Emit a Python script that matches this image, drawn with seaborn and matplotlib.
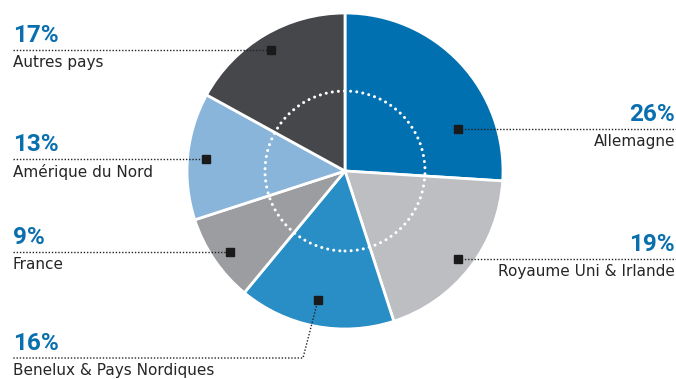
import matplotlib
matplotlib.use("Agg")
import matplotlib.pyplot as plt
import seaborn as sns
from matplotlib.patches import Circle

# ---- data ----
categories = ["Allemagne", "Royaume Uni & Irlande", "Benelux & Pays Nordiques",
              "France", "Amérique du Nord", "Autres pays"]
shares = [26, 19, 16, 9, 13, 17]
pct_labels = ["26%", "19%", "16%", "9%", "13%", "17%"]
colors = ["#0070b0", "#bdbec1", "#2a8ec6", "#9c9da0", "#8ab5da", "#46474b"]

sns.set_theme(style="white")
plt.rcParams["font.family"] = ["DejaVu Sans"]

W, H = 676, 379
fig = plt.figure(figsize=(W / 100, H / 100), dpi=100)
ax = fig.add_axes([0, 0, 1, 1])

def Y(p):
    return H - p

cx, cy, R = 345, 171, 158
pal = sns.color_palette(colors)
ax.pie(shares, colors=pal, startangle=90, counterclock=False,
       center=(cx, Y(cy)), radius=R, frame=True,
       wedgeprops=dict(edgecolor="white", linewidth=2))
circ = Circle((cx, Y(cy)), 80, fill=False, edgecolor="white",
              linewidth=2.2, linestyle=(0, (0.01, 2.0)), zorder=5)
circ.set_capstyle("round")
ax.add_patch(circ)

ax.set_xlim(0, W)
ax.set_ylim(0, H)
ax.set_aspect("auto")
ax.axis("off")

# ---- annotation layout (pixel positions) ----
# (marker x, marker y, line y, side, elbow x)
layout = {
    "Allemagne": (458, 129, 129, "right", None),
    "Royaume Uni & Irlande": (458, 259, 259, "right", None),
    "Benelux & Pays Nordiques": (318, 300, 358, "left", 303),
    "France": (230, 252, 252, "left", None),
    "Amérique du Nord": (206, 159, 159, "left", None),
    "Autres pays": (271, 50, 50, "left", None),
}

lead = dict(color="#222222", lw=1.0, linestyle=(0, (1, 1.3)), zorder=6)
pct_font = dict(family=["Roboto", "DejaVu Sans"], weight="bold",
                size=17.5, color="#0a6fae")
lab_font = dict(family=["DejaVu Sans"], size=11, color="#262626")

for cat, pct in zip(categories, pct_labels):
    mx, my, ly, side, ex = layout[cat]
    if side == "right":
        ax.plot([mx, 676], [Y(ly), Y(ly)], **lead)
        ax.text(675, Y(ly - 8), pct, ha="right", va="baseline", **pct_font)
        ax.text(675, Y(ly + 5), cat, ha="right", va="top", **lab_font)
    else:
        if ex is not None:
            ax.plot([mx, ex, 13], [Y(my), Y(ly), Y(ly)], **lead)
        else:
            ax.plot([13, mx], [Y(ly), Y(ly)], **lead)
        ax.text(13, Y(ly - 8), pct, ha="left", va="baseline", **pct_font)
        ax.text(13, Y(ly + 5), cat, ha="left", va="top", **lab_font)
    ax.plot([mx], [Y(my)], marker="s", markersize=6, color="#1a1a1a",
            linestyle="none", zorder=7)

fig.savefig("out.png", dpi=100)
